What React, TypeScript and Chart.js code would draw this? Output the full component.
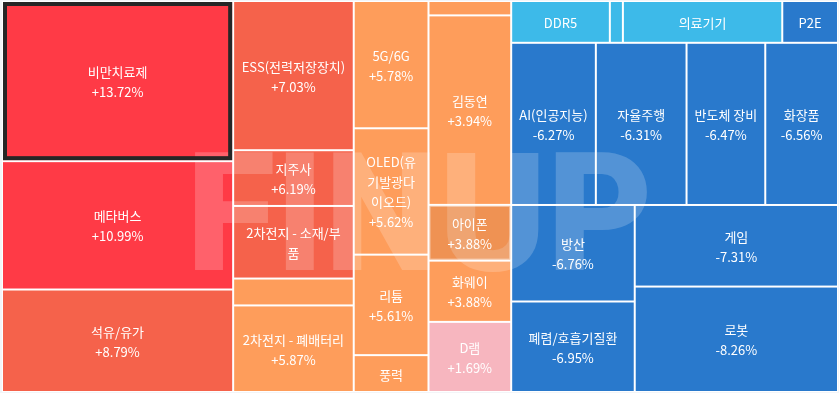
import { useEffect, useRef } from "react";
import { Chart, registerables } from "chart.js";

Chart.register(...registerables);

// ---- data ----
const categories = [
  "비만치료제", "메타버스", "석유/유가",
  "ESS(전력저장장치)", "지주사", "2차전지 - 소재/부품", "태양광", "2차전지 - 폐배터리",
  "5G/6G", "OLED(유기발광다이오드)", "리튬", "풍력",
  "수소차", "김동연", "아이폰", "화웨이", "D램",
  "DDR5", "HBM", "의료기기", "P2E",
  "AI(인공지능)", "자율주행", "반도체 장비", "화장품",
  "방산", "폐렴/호흡기질환", "게임", "로봇",
];
const changes = [
  13.72, 10.99, 8.79,
  7.03, 6.19, 6.08, 5.93, 5.87,
  5.78, 5.62, 5.61, 5.12,
  4.25, 3.94, 3.88, 3.88, 1.69,
  -1.52, -2.03, -2.41, -6.12,
  -6.27, -6.31, -6.47, -6.56,
  -6.76, -6.95, -7.31, -8.26,
];
const weights = [
  373.5, 299.3, 239.0,
  181.5, 67.8, 88.3, 32.7, 105.3,
  96.0, 95.3, 75.8, 27.8,
  12.0, 158.1, 46.5, 51.1, 58.5,
  41.6, 5.5, 67.2, 23.5,
  138.5, 148.4, 128.8, 119.0,
  120.3, 112.8, 167.3, 216.2,
];
const selectedCategory = "비만치료제";
const hoveredCategory = "아이폰";
const watermark = "FINUP";

// ---- styles ----
const W = 839;
const H = 393;
const colorBands = [
  { min: 10, color: "#FF3A46" },
  { min: 6, color: "#F5624B" },
  { min: 3, color: "#FE9D5B" },
  { min: 0, color: "#F7B6BF" },
  { min: -3, color: "#3DBAE9" },
  { min: -Infinity, color: "#2979CC" },
];
const FONT = '13px "Noto Sans CJK KR", "Noto Sans", sans-serif';
const LINE_H = 20;
const PAD_X = 6.5;
const PAD_Y = 6.5;

function colorFor(v: number) {
  for (const b of colorBands) if (v >= b.min) return b.color;
  return colorBands[colorBands.length - 1].color;
}

type Rect = { i: number; x0: number; y0: number; x1: number; y1: number };

// d3-style squarified treemap (golden ratio)
function squarify(values: number[], x0: number, y0: number, x1: number, y1: number): Rect[] {
  const ratio = (1 + Math.sqrt(5)) / 2;
  const out: Rect[] = [];
  let value = values.reduce((a, b) => a + b, 0);
  const n = values.length;
  let i0 = 0;
  let i1 = 0;
  while (i0 < n) {
    const dx = x1 - x0;
    const dy = y1 - y0;
    let sumValue = 0;
    do {
      sumValue = values[i1++];
    } while (!sumValue && i1 < n);
    let minValue = sumValue;
    let maxValue = sumValue;
    const alpha = Math.max(dy / dx, dx / dy) / (value * ratio);
    let beta = sumValue * sumValue * alpha;
    let minRatio = Math.max(maxValue / beta, beta / minValue);
    for (; i1 < n; ++i1) {
      const nv = values[i1];
      sumValue += nv;
      if (nv < minValue) minValue = nv;
      if (nv > maxValue) maxValue = nv;
      beta = sumValue * sumValue * alpha;
      const newRatio = Math.max(maxValue / beta, beta / minValue);
      if (newRatio > minRatio) {
        sumValue -= nv;
        break;
      }
      minRatio = newRatio;
    }
    if (dx < dy) {
      const ny = dy ? y0 + (dy * sumValue) / value : y1;
      let cx = x0;
      const k = sumValue ? (x1 - x0) / sumValue : 0;
      for (let j = i0; j < i1; j++) {
        const nx = cx + values[j] * k;
        out.push({ i: j, x0: cx, y0, x1: nx, y1: ny });
        cx = nx;
      }
      y0 = ny;
    } else {
      const nx = dx ? x0 + (dx * sumValue) / value : x1;
      let cy = y0;
      const k = sumValue ? (y1 - y0) / sumValue : 0;
      for (let j = i0; j < i1; j++) {
        const ny = cy + values[j] * k;
        out.push({ i: j, x0, y0: cy, x1: nx, y1: ny });
        cy = ny;
      }
      x0 = nx;
    }
    value -= sumValue;
    i0 = i1;
  }
  return out;
}

function wrapChars(ctx: CanvasRenderingContext2D, text: string, maxW: number): string[] | null {
  const lines: string[] = [];
  let cur = "";
  for (const ch of Array.from(text)) {
    const test = cur + ch;
    if (cur && ctx.measureText(test).width > maxW) {
      lines.push(cur.trimEnd());
      cur = ch === " " ? "" : ch;
    } else {
      cur = test;
    }
  }
  if (cur) lines.push(cur);
  for (const l of lines) if (ctx.measureText(l).width > maxW) return null;
  return lines;
}

const treemapPlugin = {
  id: "treemapCells",
  beforeDraw(chart: any) {
    const { ctx, chartArea } = chart;
    ctx.save();
    ctx.fillStyle = "#F3F5F8";
    ctx.fillRect(0, 0, chart.width, chart.height);
    ctx.fillStyle = "#FFFFFF";
    ctx.fillRect(chartArea.left, chartArea.top, chartArea.right - chartArea.left, chartArea.bottom - chartArea.top);
    ctx.restore();
  },
  afterDatasetsDraw(chart: any) {
    const { ctx, chartArea } = chart;
    const xs = chart.scales.x;
    const ys = chart.scales.y;
    const rects = squarify(weights, 0, 0, W, H);
    const boxes = rects.map((r) => {
      const a = xs.getPixelForValue(r.x0);
      const b = xs.getPixelForValue(r.x1);
      const c = ys.getPixelForValue(r.y0);
      const d = ys.getPixelForValue(r.y1);
      const left = Math.min(a, b) + 1;
      const top = Math.min(c, d) + 1;
      return { i: r.i, left, top, w: Math.abs(b - a) - 2, h: Math.abs(d - c) - 2 };
    });
    ctx.save();
    // cells
    for (const bx of boxes) {
      ctx.fillStyle = colorFor(changes[bx.i]);
      ctx.fillRect(bx.left, bx.top, bx.w, bx.h);
    }
    // watermark
    ctx.save();
    ctx.beginPath();
    ctx.rect(chartArea.left, chartArea.top, chartArea.right - chartArea.left, chartArea.bottom - chartArea.top);
    ctx.clip();
    ctx.font = '900 166px Roboto, "Noto Sans", sans-serif';
    ctx.textBaseline = "alphabetic";
    ctx.textAlign = "left";
    const m = ctx.measureText(watermark);
    const inkW = m.actualBoundingBoxLeft + m.actualBoundingBoxRight;
    const targetW = 452;
    const sx = targetW / inkW;
    const cxp = (chartArea.left + chartArea.right) / 2 + 1;
    ctx.translate(cxp - targetW / 2, 270);
    ctx.scale(sx, 1);
    ctx.fillStyle = "rgba(255,255,255,0.2)";
    ctx.fillText(watermark, m.actualBoundingBoxLeft, 0);
    ctx.restore();
    // hovered / selected cells
    for (const bx of boxes) {
      if (categories[bx.i] === hoveredCategory) {
        ctx.fillStyle = "rgba(60,30,0,0.08)";
        ctx.fillRect(bx.left, bx.top, bx.w, bx.h);
        ctx.strokeStyle = "rgba(255,255,255,0.45)";
        ctx.lineWidth = 1;
        ctx.strokeRect(bx.left + 0.5, bx.top + 0.5, bx.w - 1, bx.h - 1);
      }
      if (categories[bx.i] === selectedCategory) {
        ctx.strokeStyle = "#262626";
        ctx.lineWidth = 4;
        ctx.strokeRect(bx.left + 2, bx.top + 2, bx.w - 4, bx.h - 4);
      }
    }
    // labels
    ctx.font = FONT;
    ctx.fillStyle = "#FFFFFF";
    ctx.textAlign = "center";
    ctx.textBaseline = "middle";
    for (const bx of boxes) {
      const v = changes[bx.i];
      const pct = (v > 0 ? "+" : "") + v.toFixed(2) + "%";
      const maxW = bx.w - 2 * PAD_X;
      const availH = bx.h - 2 * PAD_Y;
      if (maxW <= 0) continue;
      const nameLines = wrapChars(ctx, categories[bx.i], maxW);
      if (!nameLines) continue;
      let lines: string[];
      if ((nameLines.length + 1) * LINE_H <= availH && ctx.measureText(pct).width <= maxW) lines = [...nameLines, pct];
      else if (nameLines.length * LINE_H <= availH) lines = nameLines;
      else continue;
      const cx = bx.left + bx.w / 2;
      const cy = bx.top + bx.h / 2 + 1;
      lines.forEach((l, k) => {
        ctx.fillText(l, cx, cy - ((lines.length - 1) * LINE_H) / 2 + k * LINE_H);
      });
    }
    ctx.restore();
  },
};

export default function App() {
  const ref = useRef<HTMLCanvasElement | null>(null);
  useEffect(() => {
    if (!ref.current) return;
    const chart = new Chart(ref.current, {
      type: "scatter",
      data: { datasets: [{ data: [] }] },
      options: {
        responsive: false,
        animation: false,
        layout: { padding: { left: 2, top: 1, right: 1, bottom: 1 } },
        scales: {
          x: { type: "linear", min: 0, max: W, display: false },
          y: { type: "linear", min: 0, max: H, reverse: true, display: false },
        },
        plugins: { legend: { display: false }, tooltip: { enabled: false } },
        events: [],
      },
      plugins: [treemapPlugin],
    } as any);
    return () => chart.destroy();
  }, []);
  return (
    <div style={{ position: "fixed", left: 0, top: 0, width: W, height: H }}>
      <canvas ref={ref} width={W} height={H} style={{ display: "block", width: W, height: H }} />
    </div>
  );
}
